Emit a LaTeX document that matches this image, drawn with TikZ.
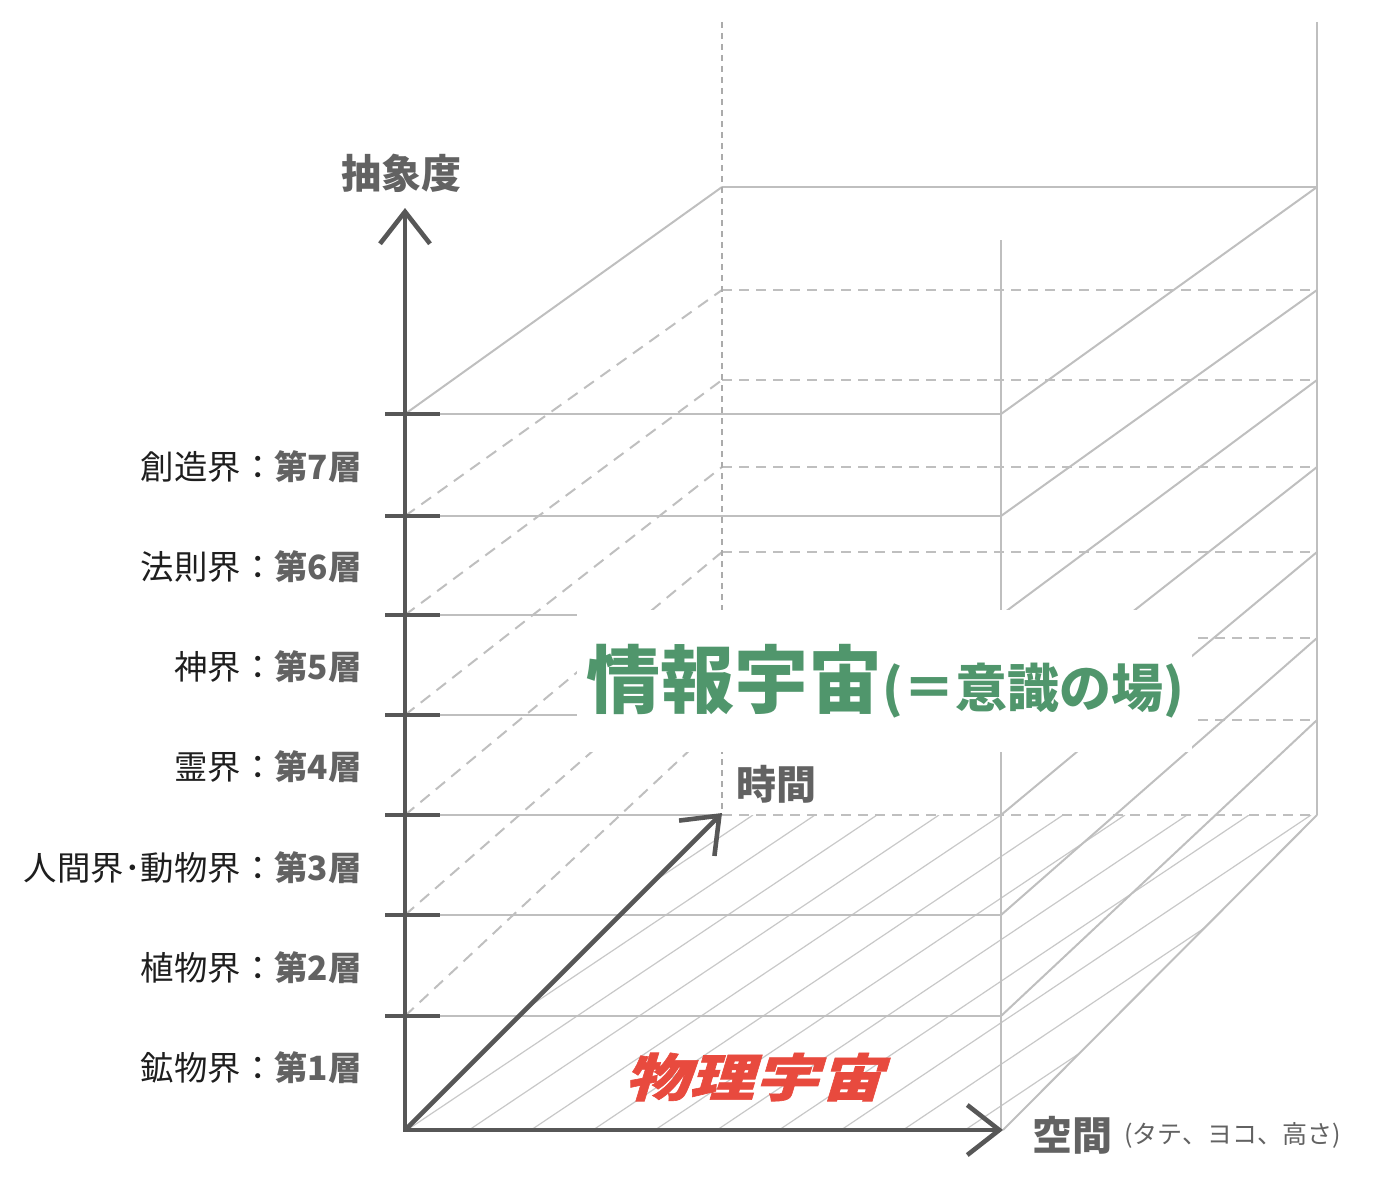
\documentclass[tikz,border=0pt]{standalone}
\usepackage{fontspec}
\newfontfamily\jp{Noto Sans CJK JP}
\newfontfamily\jpsl{Noto Sans CJK JP}[FakeSlant=0.3, FakeStretch=1.27, FakeBold=1.2]
\usetikzlibrary{arrows.meta}
\definecolor{axisgray}{HTML}{575757}
\definecolor{linegray}{HTML}{BFBFBF}
\definecolor{hatchgray}{HTML}{C8C8C8}
\definecolor{dotgray}{HTML}{ABABAB}
\definecolor{labelgray}{HTML}{626262}
\definecolor{labelblack}{HTML}{1E1E1E}
\definecolor{infogreen}{RGB}{80,150,108}
\definecolor{physred}{RGB}{232,74,62}
\begin{document}
\begin{tikzpicture}[x=0.5pt,y=-0.5pt,
  gridline/.style={draw=linegray, line width=1pt},
  backdash/.style={draw=linegray, line width=1pt, dash pattern=on 5pt off 3.5pt},
  sidedash/.style={draw=linegray, line width=1pt, dash pattern=on 6pt off 4pt},
  backdot/.style={draw=dotgray, line width=1pt, dash pattern=on 3pt off 2.5pt},
  hatchline/.style={draw=hatchgray, line width=0.6pt},
  barb/.tip={Straight Barb[length=16pt,width=25pt]},
  axisline/.style={draw=axisgray, line width=2.3pt, line join=miter},
  tickline/.style={draw=axisgray, line width=2pt},
  layerlabel/.style={anchor=east, inner sep=0pt, font=\jp\fontsize{16.7}{18}\selectfont, text=labelblack},
  axistitle/.style={inner sep=0pt, font=\jp\bfseries\fontsize{20}{24}\selectfont, text=labelgray},
]
\useasboundingbox (0,0) rectangle (1374,1188);

% corner coordinates of the layers
\foreach \i/\fy/\by in {0/1130/815,1/1016/720,2/915/638,3/815/552,4/715/467,5/615/380,6/516/290,7/414/187} {
  \coordinate (FL\i) at (405,\fy);
  \coordinate (BL\i) at (722,\by);
  \coordinate (FR\i) at (1001,\fy);
  \coordinate (BR\i) at (1317,\by);
}
\coordinate (FR0) at (1003,1130);
\coordinate (FRbot) at (1001,1130);
\coordinate (FRtop) at (1001,240);
\coordinate (BRtop) at (1317,22);
\coordinate (BLtop) at (722,22);

% hatching of the physical floor
\begin{scope}
  \clip (FL0) -- (FR0) -- (BR0) -- (BL0) -- cycle;
  \foreach \k in {0,...,11} {
    \draw[hatchline] (283+62*\k,1130) -- (753+62*\k,815);
  }
\end{scope}

% front horizontals
\foreach \i in {1,2,4,5,6,7} { \draw[gridline] (FL\i) -- (FR\i); }
\draw[gridline] (FL3) -- (BL0);

% back horizontals
\foreach \i in {0,...,6} { \draw[backdash] (BL\i) -- (BR\i); }
\draw[gridline] (BL7) -- (BR7);

% left depth lines
\foreach \i in {1,...,6} { \draw[sidedash] (FL\i) -- (BL\i); }
\draw[gridline] (FL7) -- (BL7);

% right depth lines
\foreach \i in {0,...,7} { \draw[gridline] (FR\i) -- (BR\i); }

% verticals
\draw[gridline] (FRtop) -- (FRbot);
\draw[gridline] (BRtop) -- (BR0);
\draw[backdot] (BLtop) -- (BL0);

% white box behind the title
\fill[white] (577,610) rectangle (1192,752);

% axes
\coordinate (O) at (405,1130);
\coordinate (Ytip) at (405,208);
\coordinate (Xtip) at (1003,1130);
\coordinate (Ttip) at (722,813);
\draw[axisline, barb-barb] (Ytip) -- (O) -- (Xtip);
\draw[axisline, -barb] (O) -- (Ttip);
\foreach \i in {1,...,7} { \draw[tickline] ([xshift=-10pt]FL\i) -- ([xshift=17.5pt]FL\i); }

% texts
\node[axistitle] (tAbs) at (401,173) {抽象度};
\node[axistitle] (tTime) at (776,784) {時間};
\node[axistitle] (tSpace) at (1072,1135) {空間};
\node[anchor=west, inner sep=0pt, font=\jp\fontsize{12.5}{14}\selectfont, text=labelgray] (tSpaceSub) at (1124,1135.5) {(タテ、ヨコ、高さ)};

\foreach \n/\name/\y in {1/鉱物界/1068, 2/植物界/968, 3/人間界･動物界/868, 4/霊界/767, 5/神界/667, 6/法則界/567, 7/創造界/467} {
  \node[layerlabel] (lab\n) at (362,\y) {\name{}：{\bfseries\color{labelgray}第{\n}層}};
}

\node[anchor=base west, inner sep=0pt, text=infogreen, font=\jp\bfseries] (info) at (586,707)
  {\fontsize{37}{40}\selectfont 情報宇宙\fontsize{26}{30}\selectfont (＝意識の場)};

\node[inner sep=0pt, text=physred, font=\jpsl\bfseries\fontsize{25.5}{28}\selectfont] (phys) at (754,1077) {物理宇宙};
\end{tikzpicture}
\end{document}
